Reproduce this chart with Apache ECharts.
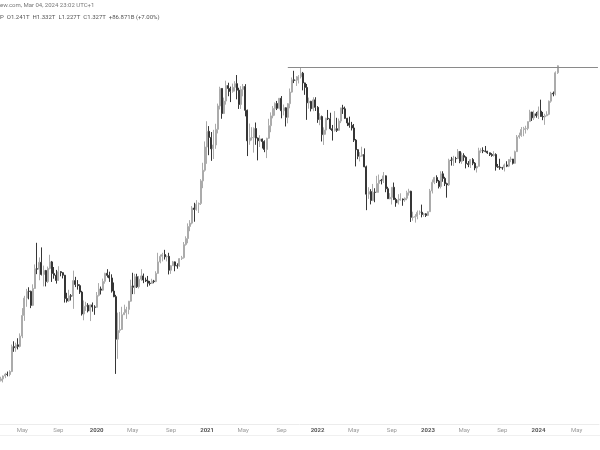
<!DOCTYPE html>
<html>
<head>
<meta charset="utf-8">
<script src="https://cdn.jsdelivr.net/npm/echarts@6/dist/echarts.min.js"></script>
<style>html,body{margin:0;padding:0;background:#fff;}#c{width:600px;height:450px;}</style>
</head>
<body>
<div id="c"></div>
<script>
// Weekly candles, BTC market cap in billions USD, first week starting 2019-02-25
const firstWeek = '2019-02-25';
const emptyWeeksAfter = 19;
const opens = [
66.1,67.2,69.1,70.3,70.1,72.1,91.4,90.5,93.0,91.6,101.1,123.0,145.1,154.9,154.7,135.4,159.1,192.0,191.2,204.0,181.8,188.7,169.8,192.5,204.9,183.5,180.5,171.6,186.7,184.9,180.4,144.5,141.3,148.4,147.7,171.4,165.1,163.4,153.7,124.8,134.2,135.6,128.4,136.0,133.4,
132.9,148.9,158.3,156.5,170.2,183.8,180.2,175.8,155.2,147.1,98.1,106.7,107.6,123.9,126.3,130.3,140.9,162.9,160.8,177.9,161.7,173.7,179.2,172.4,170.9,167.3,166.7,170.8,169.8,183.7,204.9,216.0,219.7,215.1,216.0,189.2,197.5,204.9,197.5,197.0,211.4,213.2,241.6,255.9,287.0,296.3,342.1,337.4,355.0,357.4,443.1,490.4,
611.8,710.4,670.3,601.4,623.8,724.3,904.9,1068.8,841.6,947.8,1098.6,1068.8,1039.0,1080.0,1118.9,1051.5,916.8,1059.0,1088.9,868.1,649.2,667.9,669.8,729.7,666.1,649.2,660.5,644.5,597.5,665.2,749.7,823.0,883.1,926.3,885.0,973.3,864.3,888.8,811.7,924.5,1032.2,1160.5,1153.0,1156.7,1194.5,1236.0,1126.5,1079.4,932.2,945.4,881.2,958.6,
892.6,794.8,817.6,688.6,719.0,804.3,800.5,728.4,715.2,728.4,717.1,783.5,887.8,880.2,803.9,769.6,752.5,733.4,653.4,596.3,560.1,561.0,569.6,506.7,390.5,400.1,367.7,397.9,397.0,432.3,445.7,443.8,464.9,411.3,374.0,378.8,417.0,371.1,359.6,369.2,372.7,369.8,375.6,395.7,401.5,313.1,313.6,316.0,328.5,328.9,321.8,323.7,
318.9,330.5,402.7,437.4,457.7,442.2,420.1,474.0,453.8,431.6,426.8,539.6,538.6,548.2,547.6,586.3,534.1,565.0,555.3,522.5,517.6,542.8,524.4,501.2,508.9,590.2,592.1,588.7,587.8,579.0,569.3,564.4,570.0,507.1,505.2,502.3,502.0,515.9,510.0,543.1,545.3,523.8,585.3,673.1,682.9,722.8,728.7,730.6,779.4,853.6,807.7,838.9,
824.9,861.4,818.3,815.4,824.2,835.0,946.7,1021.2,1014.3,1241
];
const highs = [
68.6,69.4,71.2,72.1,73.0,93.2,96.2,94.9,99.0,103.7,131.9,148.3,158.4,160.9,155.8,165.5,200.0,245.7,213.8,235.2,197.8,189.8,196.0,219.2,206.7,195.1,189.8,196.6,187.6,185.8,181.0,152.6,157.1,150.8,188.5,177.7,172.3,165.4,155.5,141.9,140.1,138.3,136.5,139.2,135.6,
153.8,167.4,162.0,174.7,184.7,191.1,186.6,182.0,168.4,149.7,126.3,127.2,133.6,136.3,133.6,141.3,172.9,184.7,182.9,182.9,179.2,191.2,183.4,176.4,179.2,170.9,174.4,172.6,187.4,223.4,219.7,223.4,229.8,217.8,223.4,198.4,206.8,205.8,202.1,212.3,216.9,247.5,261.4,295.7,305.0,348.6,359.7,368.9,360.6,450.5,526.5,645.2,
782.0,746.7,705.7,720.6,763.4,925.4,1086.5,1070.7,979.4,1150.7,1128.4,1087.4,1119.1,1145.1,1214.3,1075.8,1092.7,1115.1,1113.2,873.8,765.2,739.0,737.2,772.7,669.8,684.8,663.0,652.0,668.0,800.5,851.2,903.8,935.7,948.9,975.2,994.0,917.0,893.0,930.0,1068.0,1186.9,1264.3,1202.0,1213.3,1302.0,1251.1,1130.0,1115.2,979.4,950.0,983.1,983.1,
903.0,844.2,825.2,737.9,808.1,870.7,848.0,755.0,861.2,808.1,802.4,889.7,914.4,899.2,807.7,817.2,777.2,762.0,660.0,600.0,582.9,613.4,603.9,512.4,417.2,409.6,430.4,413.2,464.9,470.6,451.5,482.1,466.8,418.9,394.1,418.0,436.2,376.9,390.3,393.8,374.6,378.4,403.4,411.1,403.4,330.4,322.7,334.3,334.3,353.5,326.6,325.6,
331.4,410.5,449.0,460.6,467.3,447.1,485.6,485.6,460.6,435.5,547.3,556.9,562.7,557.3,599.9,588.2,580.5,576.6,560.0,535.0,545.7,550.5,530.2,510.8,607.6,604.7,610.1,617.9,589.7,580.0,577.1,587.8,576.1,520.7,547.0,506.2,522.7,534.3,545.0,558.0,546.3,591.2,685.8,701.4,740.4,741.4,749.2,780.4,872.1,856.0,866.2,854.5,
899.6,960.4,854.6,839.9,860.4,952.6,1034.9,1037.8,1257,1332
];
const lows = [
65.6,65.0,67.7,68.9,68.9,71.7,87.0,87.0,89.0,90.7,99.1,116.8,133.6,143.4,131.9,134.5,158.4,182.3,172.0,180.0,162.2,162.2,167.5,190.7,169.3,174.6,166.6,171.0,178.6,175.0,139.1,139.1,140.0,141.8,131.0,161.2,157.3,151.0,122.9,117.5,128.4,126.6,116.6,127.5,123.8,
132.5,147.4,150.2,155.6,166.5,176.5,169.3,152.9,146.4,70.5,81.4,104.3,107.1,123.5,119.0,124.4,140.0,150.7,150.7,159.9,159.0,170.9,167.3,169.1,161.7,163.6,166.0,167.1,168.9,182.8,202.1,205.8,209.5,205.8,181.8,182.8,197.0,187.4,192.0,195.6,208.6,211.4,239.2,244.7,274.4,292.9,300.3,333.7,326.3,352.3,413.4,483.9,
521.4,566.0,536.3,545.6,601.4,696.4,875.1,800.7,837.9,916.1,992.4,938.4,1026.0,1038.4,963.6,879.4,879.4,991.6,819.5,561.3,624.9,651.1,580.0,624.9,538.8,611.8,603.2,582.5,550.5,661.4,704.6,804.2,824.9,870.0,875.6,804.2,826.8,744.1,766.6,885.0,1026.5,1124.7,1094.5,1120.9,1175.6,1049.2,1005.8,792.5,881.2,858.6,860.5,862.4,
770.2,753.1,645.0,624.1,688.6,791.0,720.9,650.7,709.5,705.7,713.3,768.3,838.5,800.1,746.8,735.3,716.3,642.0,508.6,544.8,533.4,558.2,504.8,335.3,373.4,354.3,365.4,361.6,396.0,396.0,428.5,434.3,397.9,373.0,372.0,353.9,369.2,346.3,353.9,366.9,349.6,363.1,368.8,385.2,299.7,303.5,297.8,307.4,320.8,313.1,315.0,314.1,
317.0,329.5,393.1,429.7,434.5,412.4,412.4,439.4,422.0,377.7,422.0,512.6,510.7,526.3,545.7,524.4,521.5,536.0,499.2,505.0,501.2,514.7,490.5,479.9,507.9,578.6,577.1,581.9,573.2,561.5,557.6,558.6,488.7,501.3,492.6,492.6,484.8,505.2,505.2,529.7,518.0,522.0,583.3,662.4,674.1,678.0,695.5,718.0,778.0,784.3,791.1,808.7,
798.7,817.3,789.9,755.6,820.3,828.1,933.0,991.8,1000,1227
];
const closes = [
67.2,69.1,70.3,70.1,72.1,91.4,90.5,93.0,91.6,101.1,123.0,145.1,154.9,154.7,135.4,159.1,192.0,191.2,204.0,181.8,188.7,169.8,192.5,204.9,183.5,180.5,171.6,186.7,184.9,180.4,144.5,141.3,148.4,147.7,171.4,165.1,163.4,153.7,124.8,134.2,135.6,128.4,136.0,133.4,132.9,
148.9,158.3,156.5,170.2,183.8,180.2,175.8,155.2,147.1,98.1,106.7,107.6,123.9,126.3,130.3,140.9,162.9,160.8,177.9,161.7,173.7,179.2,172.4,170.9,167.3,166.7,170.8,169.8,183.7,204.9,216.0,219.7,215.1,216.0,189.2,197.5,204.9,197.5,197.0,211.4,213.2,241.6,255.9,287.0,296.3,342.1,337.4,355.0,357.4,443.1,490.4,611.8,
710.4,670.3,601.4,623.8,724.3,904.9,1068.8,841.6,947.8,1098.6,1068.8,1039.0,1080.0,1118.9,1051.5,916.8,1059.0,1088.9,868.1,649.2,667.9,669.8,729.7,666.1,649.2,660.5,644.5,597.5,665.2,749.7,823.0,883.1,926.3,885.0,973.3,864.3,888.8,811.7,924.5,1032.2,1160.5,1153.0,1156.7,1194.5,1236.0,1126.5,1079.4,932.2,945.4,881.2,958.6,892.6,
794.8,817.6,688.6,719.0,804.3,800.5,728.4,715.2,728.4,717.1,783.5,887.8,880.2,803.9,769.6,752.5,733.4,653.4,596.3,560.1,561.0,569.6,506.7,390.5,400.1,367.7,397.9,397.0,432.3,445.7,443.8,464.9,411.3,374.0,378.8,417.0,371.1,359.6,369.2,372.7,369.8,375.6,395.7,401.5,313.1,313.6,316.0,328.5,328.9,321.8,323.7,318.9,
330.5,402.7,437.4,457.7,442.2,420.1,474.0,453.8,431.6,426.8,539.6,538.6,548.2,547.6,586.3,534.1,565.0,555.3,522.5,517.6,542.8,524.4,501.2,508.9,590.2,592.1,588.7,587.8,579.0,569.3,564.4,570.0,507.1,505.2,502.3,502.0,515.9,510.0,543.1,545.3,523.8,585.3,673.1,682.9,722.8,728.7,730.6,779.4,853.6,807.7,838.9,824.9,
861.4,818.3,815.4,824.2,835.0,946.7,1021.2,1014.3,1241,1327
];
const athLevel = 1302;      // previous all-time high (Nov 2021)
const athLineStartWeek = 135;
const monthLabels = {0: null, 4: 'May', 8: 'Sep'};
const headerLine1 = 'ew.com, Mar 04, 2024 23:02 UTC+1';
const headerLine2 = 'P  O1.241T  H1.332T  L1.227T  C1.327T  +86.871B (+7.00%)';

// build weekly category list
const dates = [];
(function () {
  const t0 = Date.parse(firstWeek + 'T00:00:00Z');
  const n = opens.length + emptyWeeksAfter;
  for (let i = 0; i < n; i++) {
    dates.push(new Date(t0 + i * 7 * 86400000).toISOString().slice(0, 10));
  }
})();
const candles = opens.map((o, i) => [o, closes[i], lows[i], highs[i]]);

const chart = echarts.init(document.getElementById('c'), null, {renderer: 'canvas'});
const FONT = 'Roboto, "Liberation Sans", sans-serif';
chart.setOption({
  animation: false,
  backgroundColor: '#ffffff',
  grid: {left: -1, right: 1, top: 22.65, bottom: 26, containLabel: false},
  xAxis: {
    type: 'category',
    data: dates,
    boundaryGap: true,
    axisLine: {show: true, lineStyle: {color: '#ececec', width: 1}},
    axisTick: {show: false},
    splitLine: {show: false},
    axisLabel: {
      margin: 3,
      interval: function (idx, val) {
        const d = new Date(val + 'T00:00:00Z');
        return d.getUTCDate() <= 7 && (d.getUTCMonth() in monthLabels);
      },
      formatter: function (val) {
        const d = new Date(val + 'T00:00:00Z');
        const m = d.getUTCMonth();
        if (m === 0) return '{y|' + d.getUTCFullYear() + '}';
        return '{m|' + monthLabels[m] + '}';
      },
      rich: {
        y: {fontSize: 6, fontWeight: 'bold', color: '#555', fontFamily: FONT},
        m: {fontSize: 6, color: '#9a9a9a', fontFamily: FONT}
      }
    }
  },
  yAxis: {type: 'log', logBase: 10, min: 43.75, max: 2000, show: false, splitLine: {show: false}},
  series: [{
    type: 'candlestick',
    data: candles,
    barWidth: 1.5,
    itemStyle: {
      color: '#d6d6d6', color0: '#363636',
      borderColor: '#ababab', borderColor0: '#363636',
      borderWidth: 1
    },
    markLine: {
      silent: true,
      symbol: ['none', 'none'],
      label: {show: false},
      lineStyle: {color: '#8a8a8a', width: 1, type: 'solid'},
      data: [[{coord: [dates[athLineStartWeek], athLevel]}, {coord: [dates[dates.length - 1], athLevel]}]]
    }
  }],
  graphic: [
    {type: 'text', left: 0, top: 2, style: {text: headerLine1, fontSize: 6, fill: '#777', fontFamily: FONT}},
    {type: 'text', left: 0, top: 14, style: {text: headerLine2, fontSize: 6, fill: '#555', fontFamily: FONT}},
    {type: 'line', shape: {x1: 0, y1: 435.5, x2: 600, y2: 435.5}, style: {stroke: '#f0f0f0', lineWidth: 1}}
  ]
});
</script>
</body>
</html>
